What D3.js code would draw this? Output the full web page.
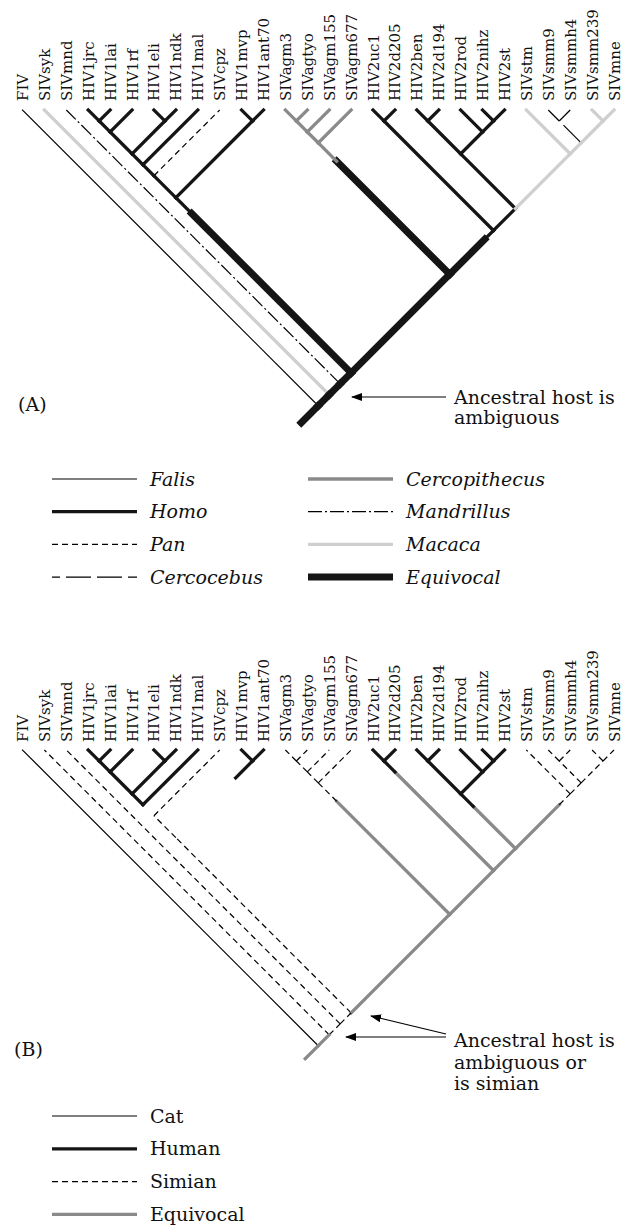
<!DOCTYPE html>
<html><head><meta charset="utf-8">
<script src="https://cdn.jsdelivr.net/npm/d3@7"></script>
<style>body{margin:0;background:#fff}svg{display:block}</style>
</head><body>
<script>
// ---------- data ----------
const leaves = ["FIV","SIVsyk","SIVmnd","HIV1jrc","HIV1lai","HIV1rf","HIV1eli","HIV1ndk","HIV1mal","SIVcpz",
  "HIV1mvp","HIV1ant70","SIVagm3","SIVagtyo","SIVagm155","SIVagm677","HIV2uc1","HIV2d205","HIV2ben","HIV2d194",
  "HIV2rod","HIV2nihz","HIV2st","SIVstm","SIVsmm9","SIVsmmh4","SIVsmm239","SIVmne"];
// internal nodes as leaf spans [first,last]
const clades = [[0,27],[1,27],[2,27],[3,27],[3,11],[3,9],[3,8],[3,7],[3,5],[3,4],[6,7],[10,11],
  [12,27],[12,15],[12,14],[12,13],[16,27],[16,17],[18,27],[18,22],[18,19],[20,22],[21,22],
  [23,27],[24,27],[24,25],[26,27]];
// host state of the branch above each node: [node, state] or [node, [stateNearNode, fraction, stateBelow]]
const hostsA = [
  ["0-0","Falis"],["1-1","Macaca"],["2-2","Mandrillus"],
  ["3-3","Homo"],["4-4","Homo"],["5-5","Homo"],["6-6","Homo"],["7-7","Homo"],["8-8","Homo"],
  ["9-9","Pan"],["10-10","Homo"],["11-11","Homo"],
  ["12-12","Cercopithecus"],["13-13","Cercopithecus"],["14-14","Cercopithecus"],["15-15","Cercopithecus"],
  ["16-16","Homo"],["17-17","Homo"],["18-18","Homo"],["19-19","Homo"],["20-20","Homo"],["21-21","Homo"],["22-22","Homo"],
  ["23-23","Macaca"],["24-24","Cercocebus"],["25-25","Cercocebus"],["26-26","Macaca"],["27-27","Macaca"],
  ["3-4","Homo"],["3-5","Homo"],["6-7","Homo"],["3-7","Homo"],["3-8","Homo"],["3-9","Homo"],["10-11","Homo"],
  ["3-11",["Homo",0.09,"Equivocal"]],
  ["12-13","Cercopithecus"],["12-14","Cercopithecus"],["12-15",["Cercopithecus",0.14,"Equivocal"]],
  ["16-17","Homo"],["18-19","Homo"],["21-22","Homo"],["20-22","Homo"],["18-22","Homo"],["18-27","Homo"],
  ["16-27",["Homo",0.2,"Equivocal"]],
  ["23-27","Macaca"],["24-27","Macaca"],["24-25","Cercocebus"],["26-27","Macaca"],
  ["12-27","Equivocal"],["3-27","Equivocal"],["2-27","Equivocal"],["1-27","Equivocal"],["0-27","Equivocal"]
];
const hostsB = [
  ["0-0","Cat"],["1-1","Simian"],["2-2","Simian"],
  ["3-3","Human"],["4-4","Human"],["5-5","Human"],["6-6","Human"],["7-7","Human"],["8-8","Human"],
  ["9-9","Simian"],["10-10","Human"],["11-11","Human"],
  ["12-12","Simian"],["13-13","Simian"],["14-14","Simian"],["15-15","Simian"],
  ["16-16","Human"],["17-17","Human"],["18-18","Human"],["19-19","Human"],["20-20","Human"],["21-21","Human"],["22-22","Human"],
  ["23-23","Simian"],["24-24","Simian"],["25-25","Simian"],["26-26","Simian"],["27-27","Simian"],
  ["3-4","Human"],["3-5","Human"],["6-7","Human"],["3-7","Human"],["3-8","None"],["3-9","Simian"],
  ["10-11",["Human",0.22,"None"]],["3-11","Simian"],
  ["12-13","Simian"],["12-14","Simian"],["12-15",["Simian",0.14,"Equivocal"]],
  ["16-17",["Human",0.1,"Equivocal"]],["18-19","Human"],["21-22","Human"],["20-22","Human"],
  ["18-22",["Human",0.23,"Equivocal"]],
  ["23-27",["Simian",0.2,"Equivocal"]],["24-27","Simian"],["24-25","Simian"],["26-27","Simian"],
  ["18-27","Equivocal"],["16-27","Equivocal"],["12-27","Equivocal"],
  ["3-27","Simian"],["2-27","Simian"],["1-27","Equivocal"],["0-27","Equivocal"]
];
const legendA = [["Falis","Homo","Pan","Cercocebus"],["Cercopithecus","Mandrillus","Macaca","Equivocal"]];
const legendB = [["Cat","Human","Simian","Equivocal"]];
const panelLabels = ["(A)","(B)"];
const noteA = ["Ancestral host is","ambiguous"];
const noteB = ["Ancestral host is","ambiguous or","is simian"];

// ---------- styles ----------
const stylesA = {
  Falis:{stroke:"#000",width:1.2},
  Homo:{stroke:"#151515",width:3.3},
  Pan:{stroke:"#000",width:1.2,dash:"6,4"},
  Cercocebus:{stroke:"#000",width:1.2,dash:"25,6",legOffset:17},
  Cercopithecus:{stroke:"#8a8a8a",width:3.3},
  Mandrillus:{stroke:"#000",width:1.2,dash:"14,3,2,3"},
  Macaca:{stroke:"#cfcfcf",width:3.3},
  Equivocal:{stroke:"#151515",width:7}
};
const stylesB = {
  Cat:{stroke:"#000",width:1.2},
  Human:{stroke:"#151515",width:3.3},
  Simian:{stroke:"#000",width:1.2,dash:"6,4"},
  Equivocal:{stroke:"#8a8a8a",width:3.3},
  None:null
};

// ---------- layout ----------
const W = 629, H = 1225;
const FONT = "'DejaVu Serif', serif";
const svg = d3.select("body").append("svg").attr("width", W).attr("height", H);
const defs = svg.append("defs");
defs.append("marker").attr("id","arr").attr("markerUnits","userSpaceOnUse")
  .attr("markerWidth",11).attr("markerHeight",8).attr("refX",10).attr("refY",4).attr("orient","auto")
  .append("path").attr("d","M0,0 L11,4 L0,8 Z").attr("fill","#000");

const x = d3.scalePoint().domain(d3.range(leaves.length)).range([22.5, 614]);

function nodeInfo() {
  const ids = leaves.map((_, i) => [i, i]).concat(clades);
  const map = new Map(ids.map(s => [s[0] + "-" + s[1], s]));
  const parentOf = {};
  ids.forEach(s => {
    let best = null;
    clades.forEach(c => {
      if (c[0] <= s[0] && c[1] >= s[1] && !(c[0] === s[0] && c[1] === s[1])) {
        if (!best || (c[1] - c[0]) < (best[1] - best[0])) best = c;
      }
    });
    parentOf[s[0] + "-" + s[1]] = best ? best[0] + "-" + best[1] : null;
  });
  return { map, parentOf };
}
const { map: nodeMap, parentOf } = nodeInfo();

function drawSeg(g, p, q, st, legend) {
  if (!st) return;
  const solid = !st.dash;
  g.append("line").attr("x1", p[0]).attr("y1", p[1]).attr("x2", q[0]).attr("y2", q[1])
    .attr("stroke", st.stroke).attr("stroke-width", st.width)
    .attr("stroke-dasharray", st.dash || null)
    .attr("stroke-dashoffset", legend && st.legOffset ? st.legOffset : null)
    .attr("stroke-linecap", solid && !legend ? "square" : "butt");
}

function drawTree(cfg) {
  const g = svg.append("g");
  const y = d3.scaleLinear().domain([0, 300]).range([cfg.tipY, cfg.tipY + 300]);
  const pos = id => {
    const s = nodeMap.get(id);
    const xl = x(s[0]), xr = x(s[1]);
    return [(xl + xr) / 2, y((xr - xl) / 2)];
  };
  const hostMap = new Map(cfg.hosts);
  // draw wide/grey branches first, thick equivocal last
  const order = cfg.hosts.map(h => h[0]);
  order.forEach(id => {
    const h = hostMap.get(id);
    const c = pos(id);
    const pid = parentOf[id];
    let p;
    if (pid) p = pos(pid);
    else p = [c[0] - cfg.stub, c[1] + cfg.stub]; // root stub
    if (Array.isArray(h)) {
      const [s1, f, s2] = h;
      const m = [c[0] + f * (p[0] - c[0]), c[1] + f * (p[1] - c[1])];
      drawSeg(g, p, m, cfg.styles[s2]);
      drawSeg(g, m, c, cfg.styles[s1]);
    } else {
      drawSeg(g, p, c, cfg.styles[h]);
    }
  });
  // leaf labels
  g.selectAll("text.leaf").data(leaves).join("text")
    .attr("transform", (d, i) => `translate(${x(i) + 0.5},${cfg.labelY}) rotate(-90)`)
    .attr("dominant-baseline", "central")
    .attr("font-family", FONT).attr("font-size", 15).attr("fill", "#111")
    .text(d => d);
  // panel label
  g.append("text").attr("x", cfg.panelX).attr("y", cfg.panelY)
    .attr("font-family", FONT).attr("font-size", 19).attr("fill", "#111").text(cfg.panel);
  // note
  const nt = g.append("text").attr("font-family", FONT).attr("font-size", 19).attr("fill", "#111");
  cfg.note.forEach((t, i) => nt.append("tspan").attr("x", cfg.noteX).attr("y", cfg.noteY + i * cfg.noteStep).text(t));
  cfg.arrows.forEach(a => {
    g.append("line").attr("x1", a[0]).attr("y1", a[1]).attr("x2", a[2]).attr("y2", a[3])
      .attr("stroke", "#000").attr("stroke-width", 1.1).attr("marker-end", "url(#arr)");
  });
  // legend
  cfg.legend.forEach((col, ci) => {
    col.forEach((name, ri) => {
      const ly = cfg.legY + ri * cfg.legStep;
      const lx = cfg.legX[ci];
      drawSeg(g, [lx, ly], [lx + 85, ly], cfg.styles[name], true);
      g.append("text").attr("x", lx + 98).attr("y", ly + 6.5)
        .attr("font-family", FONT).attr("font-size", 19).attr("fill", "#111")
        .attr("font-style", cfg.italic ? "italic" : null).text(name);
    });
  });
}

drawTree({
  hosts: hostsA, styles: stylesA, tipY: 110, labelY: 101, stub: 17,
  panel: panelLabels[0], panelX: 18, panelY: 411,
  note: noteA, noteX: 454, noteY: 404, noteStep: 20,
  arrows: [[446, 397, 352, 397]],
  legend: legendA, legX: [52, 308], legY: 479, legStep: 32.7, italic: true
});
drawTree({
  hosts: hostsB, styles: stylesB, tipY: 750, labelY: 742, stub: 13,
  panel: panelLabels[1], panelX: 14, panelY: 1056,
  note: noteB, noteX: 454, noteY: 1047, noteStep: 21.5,
  arrows: [[446, 1034, 371, 1016], [446, 1037, 346, 1037]],
  legend: legendB, legX: [52], legY: 1116, legStep: 32.8, italic: false
});
</script>
</body></html>
